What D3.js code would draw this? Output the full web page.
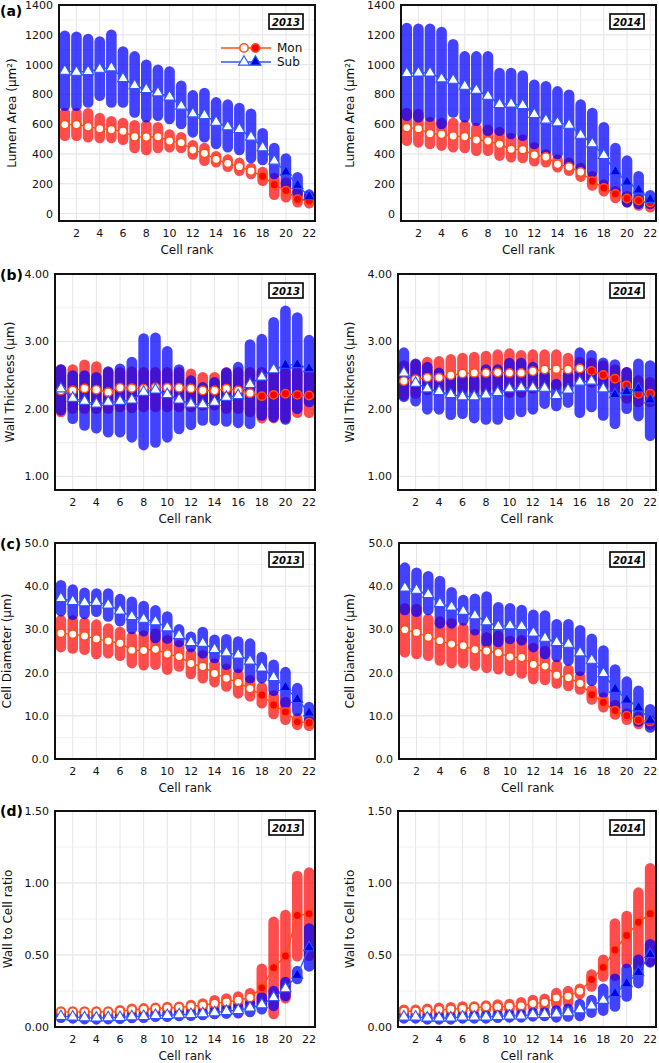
<!DOCTYPE html>
<html><head><meta charset="utf-8">
<script src="https://cdn.jsdelivr.net/npm/d3@7"></script>
<style>
body{margin:0;background:#fff;}
svg{display:block;font-family:"DejaVu Sans",sans-serif;}
</style>
</head><body>
<svg id="chart" width="659" height="1063"></svg>
<script>
// ---------- categories / ticks ----------
const cellRank = d3.range(1, 23);
const xTickValues = [2,4,6,8,10,12,14,16,18,20,22];
const years = ["2013", "2014"];
const seriesNames = ["Mon", "Sub"];
const panelLetters = ["(a)", "(b)", "(c)", "(d)"];
const yTitles = ["Lumen Area (μm²)", "Wall Thickness (μm)", "Cell Diameter (μm)", "Wall to Cell ratio"];
const yTickLa = [0,200,400,600,800,1000,1200,1400];
const yTickWt = [1,2,3,4];
const yTickCd = [0,10,20,30,40,50];
const yTickWc = [0,0.5,1,1.5];

// ---------- (a) Lumen area ----------
const la13MonMean = [597,597,583,570,563,552,516,514,516,487,476,427,404,364,337,315,286,250,194,154,96,85];
const la13MonHi   = [675,675,673,641,619,608,592,592,579,530,512,458,440,384,362,340,306,279,239,206,139,116];
const la13MonLo   = [523,523,512,507,507,496,440,427,440,445,440,396,355,344,315,288,266,221,127,109,76,69];
const la13SubMean = [956,950,954,970,979,907,860,834,811,784,722,670,659,614,583,565,514,443,353,279,190,114];
const la13SubHi   = [1193,1187,1171,1155,1200,1088,1055,999,965,954,858,793,809,746,731,708,670,539,440,369,244,127];
const la13SubLo   = [724,724,746,791,746,746,679,646,657,635,601,545,512,467,445,427,373,360,266,188,132,107];

const la14MonMean = [577,570,536,532,521,516,494,487,465,431,429,393,380,331,313,279,217,172,132,101,87,74];
const la14MonHi   = [675,668,615,608,608,592,574,563,547,507,496,445,396,362,340,306,250,194,150,116,94,83];
const la14MonLo   = [489,478,467,456,445,440,422,422,389,378,373,351,344,311,288,248,188,150,105,76,54,42];
const la14SubMean = [941,945,945,905,896,856,829,789,733,737,726,666,628,610,594,527,469,391,282,212,159,96];
const la14SubHi   = [1245,1240,1240,1218,1137,1055,1055,1055,943,943,927,865,854,820,798,731,675,579,440,355,250,123];
const la14SubLo   = [657,646,650,601,679,646,623,556,556,534,523,467,422,400,333,311,277,221,154,76,65,65];

// ---------- (b) Wall thickness ----------
const wt13MonMean = [2.275,2.275,2.305,2.285,2.25,2.315,2.31,2.30,2.32,2.315,2.315,2.305,2.275,2.275,2.30,2.275,2.235,2.19,2.21,2.225,2.21,2.20];
const wt13MonHi   = [2.585,2.585,2.655,2.63,2.545,2.545,2.555,2.545,2.545,2.545,2.545,2.52,2.47,2.47,2.545,2.545,2.545,2.545,2.545,2.545,2.545,2.545];
const wt13MonLo   = [1.955,2.005,2.005,2.005,2.005,2.03,2.015,2.03,2.03,2.03,2.03,2.03,2.055,2.055,2.005,2.005,1.955,1.865,1.865,1.865,1.945,1.945];
const wt13SubMean = [2.30,2.16,2.115,2.075,2.10,2.115,2.135,2.25,2.285,2.215,2.135,2.075,2.065,2.10,2.175,2.20,2.365,2.475,2.585,2.65,2.66,2.60];
const wt13SubHi   = [2.585,2.495,2.495,2.47,2.555,2.595,2.695,3.045,3.055,2.855,2.585,2.42,2.32,2.395,2.535,2.62,2.955,3.035,3.285,3.455,3.355,3.02];
const wt13SubLo   = [1.98,1.855,1.755,1.715,1.655,1.655,1.58,1.465,1.505,1.58,1.705,1.765,1.83,1.83,1.815,1.795,1.78,1.905,1.88,1.845,2.005,2.105];

const wt14MonMean = [2.415,2.44,2.465,2.465,2.50,2.525,2.535,2.535,2.54,2.535,2.535,2.56,2.585,2.59,2.585,2.60,2.565,2.505,2.45,2.35,2.225,2.225];
const wt14MonHi   = [2.645,2.66,2.695,2.705,2.735,2.755,2.77,2.785,2.805,2.82,2.795,2.805,2.805,2.805,2.755,2.695,2.685,2.645,2.585,2.545,2.42,2.395];
const wt14MonLo   = [2.205,2.23,2.28,2.28,2.28,2.305,2.305,2.305,2.305,2.245,2.245,2.305,2.33,2.355,2.355,2.43,2.395,2.33,2.255,2.155,2.105,2.105];
const wt14SubMean = [2.535,2.385,2.30,2.26,2.215,2.185,2.185,2.21,2.245,2.30,2.315,2.315,2.31,2.20,2.285,2.40,2.415,2.30,2.215,2.26,2.30,2.135];
const wt14SubHi   = [2.835,2.67,2.62,2.535,2.47,2.445,2.435,2.585,2.585,2.68,2.68,2.62,2.495,2.37,2.495,2.835,2.795,2.685,2.66,2.545,2.67,2.645];
const wt14SubLo   = [2.18,2.115,1.995,1.995,1.915,1.93,1.865,1.845,1.845,1.915,1.955,1.995,2.08,2.045,2.095,1.945,2.03,1.905,1.78,2.005,1.895,1.605];

// ---------- (c) Cell diameter ----------
const cd13MonMean = [29.1,28.9,28.5,27.8,27.3,26.8,25.2,25.1,25.4,24.3,23.7,22.1,21.4,19.8,18.7,17.7,16.3,14.8,12.5,10.9,8.6,8.4];
const cd13MonHi   = [32.1,32.1,31.6,31.1,30.2,29.4,28.3,28.6,29.0,27.5,26.3,24.4,24.0,22.1,20.9,19.7,18.2,16.6,14.7,13.2,9.4,8.7];
const cd13MonLo   = [25.9,25.6,25.3,24.3,24.5,23.9,22.2,21.7,21.8,20.7,21.4,19.7,18.7,17.8,16.8,15.2,14.5,12.9,10.4,9.1,7.9,7.7];
const cd13SubMean = [37.2,36.5,36.2,36.3,35.7,34.3,33.0,32.4,31.8,30.4,28.6,27.0,26.8,25.4,24.6,24.1,22.7,21.1,18.9,16.6,13.8,10.7];
const cd13SubHi   = [40.2,39.2,38.5,38.3,38.3,37.0,36.4,35.4,34.4,33.0,30.0,28.3,29.4,27.6,27.7,27.2,26.7,23.6,21.8,20.1,16.4,12.0];
const cd13SubLo   = [34.2,33.4,33.6,34.1,33.0,31.9,30.1,29.6,28.0,27.9,27.1,25.9,24.5,23.4,21.8,21.1,18.7,18.7,15.8,12.9,11.1,9.4];

const cd14MonMean = [29.9,29.3,28.2,27.4,26.6,26.2,25.3,25.0,24.6,23.6,23.5,21.9,21.5,19.4,18.8,17.5,14.9,13.1,11.2,10.0,9.0,8.7];
const cd14MonHi   = [34.9,34.7,32.4,31.8,31.4,30.3,28.9,28.1,28.5,27.3,27.5,25.7,25.0,21.8,20.7,19.1,16.0,14.2,12.5,10.5,9.8,9.0];
const cd14MonLo   = [24.7,24.3,23.9,22.8,22.2,22.2,21.6,21.1,20.8,20.4,19.8,18.5,18.3,17.5,16.9,16.1,13.8,12.0,10.3,9.1,8.1,8.0];
const cd14SubMean = [39.6,39.1,38.1,36.0,35.2,34.2,33.2,31.8,30.7,30.9,30.7,29.2,28.0,27.0,26.6,24.6,22.9,19.8,16.2,13.7,11.9,9.0];
const cd14SubHi   = [44.3,43.1,42.3,41.2,38.6,36.8,37.1,37.6,35.1,34.9,34.5,33.4,33.2,31.2,31.2,29.8,27.8,25.1,20.7,17.9,15.8,11.5];
const cd14SubLo   = [34.5,34.1,34.5,31.4,31.4,32.1,29.8,27.1,27.1,27.8,27.5,25.9,24.3,23.6,22.8,20.4,18.1,15.4,11.9,10.1,8.7,7.3];

// ---------- (d) Wall to cell ratio ----------
const wc13MonMean = [0.105,0.105,0.105,0.105,0.105,0.109,0.121,0.123,0.128,0.133,0.135,0.144,0.151,0.163,0.174,0.186,0.205,0.272,0.412,0.493,0.774,0.786];
const wc13MonHi   = [0.107,0.107,0.107,0.107,0.107,0.116,0.127,0.129,0.134,0.139,0.141,0.153,0.163,0.186,0.198,0.212,0.234,0.405,0.73,0.777,1.049,1.072];
const wc13MonLo   = [0.103,0.103,0.103,0.103,0.103,0.102,0.115,0.117,0.122,0.127,0.129,0.135,0.139,0.14,0.15,0.16,0.176,0.165,0.091,0.20,0.491,0.495];
const wc13SubMean = [0.074,0.07,0.065,0.063,0.065,0.067,0.072,0.074,0.081,0.081,0.086,0.088,0.093,0.10,0.109,0.116,0.133,0.156,0.205,0.267,0.36,0.551];
const wc13SubHi   = [0.084,0.08,0.075,0.073,0.075,0.077,0.082,0.084,0.091,0.091,0.096,0.098,0.103,0.11,0.125,0.137,0.162,0.207,0.249,0.312,0.388,0.684];
const wc13SubLo   = [0.064,0.06,0.055,0.053,0.055,0.057,0.062,0.064,0.071,0.071,0.076,0.078,0.083,0.09,0.093,0.095,0.104,0.123,0.147,0.216,0.333,0.421];

const wc14MonMean = [0.109,0.109,0.116,0.121,0.123,0.128,0.135,0.14,0.14,0.144,0.147,0.163,0.17,0.202,0.214,0.249,0.33,0.414,0.535,0.635,0.728,0.786];
const wc14MonHi   = [0.119,0.119,0.126,0.133,0.137,0.142,0.142,0.149,0.156,0.16,0.172,0.188,0.195,0.235,0.249,0.265,0.365,0.467,0.719,0.77,0.933,1.102];
const wc14MonLo   = [0.107,0.107,0.107,0.107,0.114,0.119,0.123,0.123,0.123,0.123,0.123,0.142,0.142,0.16,0.17,0.23,0.281,0.351,0.356,0.444,0.421,0.456];
const wc14SubMean = [0.07,0.07,0.063,0.063,0.063,0.07,0.07,0.07,0.074,0.077,0.077,0.086,0.088,0.091,0.10,0.121,0.147,0.186,0.233,0.302,0.379,0.505];
const wc14SubHi   = [0.08,0.08,0.073,0.073,0.073,0.08,0.08,0.08,0.084,0.087,0.087,0.098,0.10,0.115,0.127,0.16,0.188,0.265,0.335,0.405,0.467,0.574];
const wc14SubLo   = [0.06,0.06,0.053,0.053,0.053,0.06,0.06,0.06,0.064,0.067,0.067,0.074,0.076,0.067,0.073,0.077,0.10,0.114,0.142,0.212,0.305,0.449];

// first cell rank drawn with a filled marker (per row: a,b,c,d)
const monFilledFrom13 = [18,18,18,18];
const monFilledFrom14 = [17,17,17,17];
const subFilledFrom13 = [20,20,20,21];
const subFilledFrom14 = [19,19,19,19];

// ---------- layout ----------
const W = 659, H = 1063;
const rowTop = [5, 274, 543, 811];
const plotH = 216;
const leftL = [59, 55, 55, 55], leftR = 315;
const rightL = [401, 398, 399, 398], rightR = 656;
const titleXLeft = [12, 10, 7, 8], titleXRight = 350;

const yDomains = [[-50,1400],[0.8,4.0],[0,50],[0,1.5]];
const yTicks = [yTickLa, yTickWt, yTickCd, yTickWc];
const yMinorStep = [100, 0.5, 5, 0.25];
const yFormats = [d3.format("d"), d3.format(".2f"), d3.format(".1f"), d3.format(".2f")];

const dataSets = [
  [[la13MonMean,la13MonLo,la13MonHi,la13SubMean,la13SubLo,la13SubHi],[la14MonMean,la14MonLo,la14MonHi,la14SubMean,la14SubLo,la14SubHi]],
  [[wt13MonMean,wt13MonLo,wt13MonHi,wt13SubMean,wt13SubLo,wt13SubHi],[wt14MonMean,wt14MonLo,wt14MonHi,wt14SubMean,wt14SubLo,wt14SubHi]],
  [[cd13MonMean,cd13MonLo,cd13MonHi,cd13SubMean,cd13SubLo,cd13SubHi],[cd14MonMean,cd14MonLo,cd14MonHi,cd14SubMean,cd14SubLo,cd14SubHi]],
  [[wc13MonMean,wc13MonLo,wc13MonHi,wc13SubMean,wc13SubLo,wc13SubHi],[wc14MonMean,wc14MonLo,wc14MonHi,wc14SubMean,wc14SubLo,wc14SubHi]]
];

const RED_BAR = "rgba(255,0,0,0.70)";
const BLUE_BAR = "rgba(0,0,255,0.74)";
const MON_LINE = "#ff5014";
const MON_FILL = "#ff0000";
const SUB_LINE = "#2c55ff";
const SUB_FILL = "#0000e0";
const GRID = "#e6e6ea";
const GRID_MINOR = "#f0f0f3";

const svg = d3.select("#chart");
svg.append("rect").attr("width", W).attr("height", H).attr("fill", "#fff");
const defs = svg.append("defs");
const triangle = d3.symbol().type(d3.symbolTriangle).size(52);
const MR = 4.2;

function drawPanel(row, col) {
  const x0 = col === 0 ? leftL[row] : rightL[row];
  const x1 = col === 0 ? leftR : rightR;
  const y0 = rowTop[row], y1 = rowTop[row] + plotH;
  const x = d3.scaleLinear().domain([0.5, 22.5]).range([x0, x1]);
  const y = d3.scaleLinear().domain(yDomains[row]).range([y1, y0]);
  const [monMean, monLo, monHi, subMean, subLo, subHi] = dataSets[row][col];
  const monFrom = col === 0 ? monFilledFrom13[row] : monFilledFrom14[row];
  const subFrom = col === 0 ? subFilledFrom13[row] : subFilledFrom14[row];
  const g = svg.append("g");
  const clipId = "clip" + row + "_" + col;
  defs.append("clipPath").attr("id", clipId).append("rect")
    .attr("x", x0).attr("y", y0).attr("width", x1 - x0).attr("height", y1 - y0);

  // grid
  const grid = g.append("g");
  const [d0, d1] = yDomains[row];
  const minor = d3.range(Math.ceil(d0 / yMinorStep[row]) * yMinorStep[row], d1 + 1e-9, yMinorStep[row]);
  grid.selectAll(".mn").data(minor).join("line")
    .attr("x1", x0).attr("x2", x1).attr("y1", d => y(d)).attr("y2", d => y(d))
    .attr("stroke", GRID_MINOR).attr("stroke-width", 1);
  grid.selectAll(".mj").data(yTicks[row]).join("line")
    .attr("x1", x0).attr("x2", x1).attr("y1", d => y(d)).attr("y2", d => y(d))
    .attr("stroke", GRID).attr("stroke-width", 1);
  grid.selectAll(".vx").data(xTickValues).join("line")
    .attr("x1", d => x(d)).attr("x2", d => x(d)).attr("y1", y0).attr("y2", y1)
    .attr("stroke", GRID).attr("stroke-width", 1);

  const plot = g.append("g").attr("clip-path", `url(#${clipId})`);
  // range bars
  plot.append("g").selectAll("line").data(cellRank).join("line")
    .attr("x1", d => x(d)).attr("x2", d => x(d))
    .attr("y1", (d, i) => y(monLo[i])).attr("y2", (d, i) => y(monHi[i]))
    .attr("stroke", RED_BAR).attr("stroke-width", 10.6).attr("stroke-linecap", "round");
  plot.append("g").selectAll("line").data(cellRank).join("line")
    .attr("x1", d => x(d)).attr("x2", d => x(d))
    .attr("y1", (d, i) => y(subLo[i])).attr("y2", (d, i) => y(subHi[i]))
    .attr("stroke", BLUE_BAR).attr("stroke-width", 10.6).attr("stroke-linecap", "round");

  // mean lines
  const line = d3.line().x(d => x(d[0])).y(d => y(d[1]));
  plot.append("path").datum(cellRank.map((c, i) => [c, monMean[i]]))
    .attr("d", line).attr("fill", "none").attr("stroke", MON_LINE).attr("stroke-width", 1.4);
  plot.append("path").datum(cellRank.map((c, i) => [c, subMean[i]]))
    .attr("d", line).attr("fill", "none").attr("stroke", SUB_LINE).attr("stroke-width", 1.4);

  // markers
  plot.append("g").selectAll("circle").data(cellRank).join("circle")
    .attr("cx", d => x(d)).attr("cy", (d, i) => y(monMean[i])).attr("r", MR)
    .attr("fill", d => d >= monFrom ? MON_FILL : "#fff")
    .attr("stroke", MON_LINE).attr("stroke-width", 1.5);
  plot.append("g").selectAll("path").data(cellRank).join("path")
    .attr("d", triangle)
    .attr("transform", (d, i) => `translate(${x(d)},${y(subMean[i])})`)
    .attr("fill", d => d >= subFrom ? SUB_FILL : "#fff")
    .attr("stroke", SUB_LINE).attr("stroke-width", 1.1);

  // frame
  g.append("rect").attr("x", x0).attr("y", y0).attr("width", x1 - x0).attr("height", y1 - y0)
    .attr("fill", "none").attr("stroke", "#111").attr("stroke-width", 2);

  // tick labels
  g.append("g").selectAll("text").data(yTicks[row]).join("text")
    .attr("x", x0 - 6).attr("y", d => y(d)).attr("dy", "0.36em")
    .attr("text-anchor", "end").attr("font-size", 11).attr("fill", "#111")
    .text(d => yFormats[row](d));
  g.append("g").selectAll("text").data(xTickValues).join("text")
    .attr("x", d => x(d)).attr("y", y1 + 16)
    .attr("text-anchor", "middle").attr("font-size", 11).attr("fill", "#111")
    .text(d => d);

  // axis titles
  g.append("text").attr("x", (x0 + x1) / 2).attr("y", y1 + 33)
    .attr("text-anchor", "middle").attr("font-size", 12).attr("fill", "#111").text("Cell rank");
  const tx = col === 0 ? titleXLeft[row] : titleXRight;
  g.append("text").attr("transform", `translate(${tx},${(y0 + y1) / 2}) rotate(-90)`)
    .attr("dy", "0.36em").attr("text-anchor", "middle").attr("font-size", 12).attr("fill", "#111")
    .text(yTitles[row]);

  // year box
  const bx = x1 - 12 - 34, by = y0 + 9;
  g.append("rect").attr("x", bx).attr("y", by).attr("width", 34).attr("height", 15)
    .attr("fill", "#fff").attr("stroke", "#000").attr("stroke-width", 1.6);
  g.append("text").attr("x", bx + 17).attr("y", by + 11.5).attr("text-anchor", "middle")
    .attr("font-size", 10).attr("font-weight", "bold").attr("font-style", "italic").attr("fill", "#000")
    .text(years[col]);

  if (col === 0) {
    g.append("text").attr("x", 0).attr("y", [16, 280, 549, 816][row])
      .attr("font-size", 14).attr("font-weight", "bold").attr("fill", "#000").text(panelLetters[row]);
  }

  // legend (panel a 2013)
  if (row === 0 && col === 0) {
    const lg = g.append("g");
    const lx0 = 221, lx1 = 271, lys = [y0 + 43, y0 + 57];
    lg.append("line").attr("x1", lx0).attr("x2", lx1).attr("y1", lys[0]).attr("y2", lys[0])
      .attr("stroke", MON_LINE).attr("stroke-width", 1.4);
    lg.append("circle").attr("cx", 244).attr("cy", lys[0]).attr("r", MR).attr("fill", "#fff")
      .attr("stroke", MON_LINE).attr("stroke-width", 1.5);
    lg.append("circle").attr("cx", 255.5).attr("cy", lys[0]).attr("r", MR).attr("fill", MON_FILL)
      .attr("stroke", MON_LINE).attr("stroke-width", 1.5);
    lg.append("line").attr("x1", lx0).attr("x2", lx1).attr("y1", lys[1]).attr("y2", lys[1])
      .attr("stroke", SUB_LINE).attr("stroke-width", 1.4);
    lg.append("path").attr("d", triangle).attr("transform", `translate(244,${lys[1]})`)
      .attr("fill", "#fff").attr("stroke", SUB_LINE).attr("stroke-width", 1.1);
    lg.append("path").attr("d", triangle).attr("transform", `translate(255.5,${lys[1]})`)
      .attr("fill", SUB_FILL).attr("stroke", SUB_LINE).attr("stroke-width", 1.1);
    seriesNames.forEach((s, i) => {
      lg.append("text").attr("x", 277).attr("y", lys[i]).attr("dy", "0.36em")
        .attr("font-size", 12).attr("fill", "#111").text(s);
    });
  }
}

for (let r = 0; r < 4; r++) for (let c = 0; c < 2; c++) drawPanel(r, c);
</script>
</body></html>
